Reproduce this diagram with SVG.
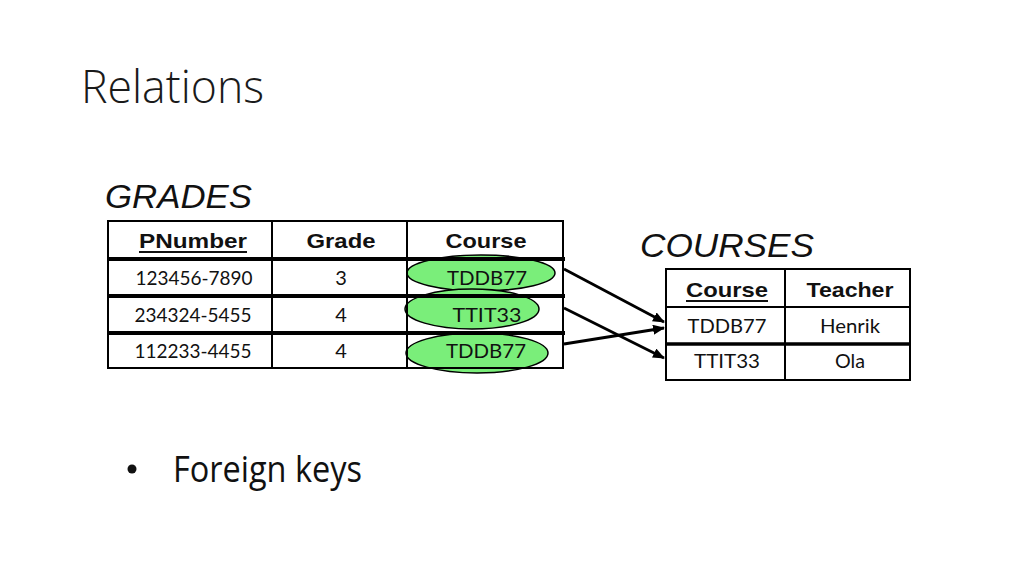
<svg xmlns="http://www.w3.org/2000/svg" width="1024" height="576" viewBox="0 0 1024 576">
<style>
.title{font-family:"Open Sans","Liberation Sans",sans-serif;font-weight:300;fill:#1a1a1a}
.body{font-family:"Open Sans","Liberation Sans",sans-serif;font-weight:400;fill:#111}
.tname{font-family:"Liberation Sans",Arial,sans-serif;font-style:italic;font-size:34px;fill:#111}
.hdr{font-family:"Liberation Sans",Arial,sans-serif;font-weight:bold;font-size:21px;fill:#111;text-anchor:middle}
.cell{font-family:Lato,"Open Sans",sans-serif;font-size:20px;fill:#111;text-anchor:middle}
.thin{stroke:#000;stroke-width:2;fill:none}
.thick{stroke:#000;stroke-width:4;fill:none}
.key{fill:#7aee7a;stroke:#000;stroke-width:1.5}
.conn{stroke:#000;stroke-width:2.8;fill:none;marker-end:url(#ah)}
</style>
<defs>
<marker id="ah" viewBox="0 0 12 10" refX="11" refY="5" markerWidth="12" markerHeight="10" markerUnits="userSpaceOnUse" orient="auto">
<path d="M0,0 L12,5 L0,10 Z" fill="#000"/>
</marker>
</defs>
<rect width="1024" height="576" fill="#fff"/>
<text class="title" x="81" y="103" font-size="46" textLength="183" lengthAdjust="spacingAndGlyphs">Relations</text>

<g id="grades">
<text class="tname" x="105" y="208" textLength="147" lengthAdjust="spacingAndGlyphs">GRADES</text>
<ellipse class="key" cx="481" cy="273" rx="74" ry="18"/>
<ellipse class="key" cx="472" cy="309" rx="67" ry="20"/>
<ellipse class="key" cx="477" cy="353" rx="71" ry="20"/>
<rect class="thin" x="108" y="221" width="455" height="147"/>
<line class="thin" x1="272" y1="221" x2="272" y2="368"/>
<line class="thin" x1="407" y1="221" x2="407" y2="368"/>
<line class="thick" x1="108" y1="259" x2="565" y2="259"/>
<line class="thick" x1="108" y1="296" x2="565" y2="296"/>
<line class="thick" x1="108" y1="333" x2="565" y2="333"/>
<text class="hdr" x="193" y="248" textLength="108" lengthAdjust="spacingAndGlyphs">PNumber</text>
<line x1="139" y1="252" x2="247" y2="252" stroke="#111" stroke-width="2"/>
<text class="hdr" x="341" y="248" textLength="69" lengthAdjust="spacingAndGlyphs">Grade</text>
<text class="hdr" x="486" y="248" textLength="81" lengthAdjust="spacingAndGlyphs">Course</text>
<text class="cell" x="194" y="285" textLength="117" lengthAdjust="spacingAndGlyphs">123456-7890</text>
<text class="cell" x="341" y="285">3</text>
<text class="cell" x="487" y="285" textLength="80" lengthAdjust="spacingAndGlyphs">TDDB77</text>
<text class="cell" x="193" y="322" textLength="117" lengthAdjust="spacingAndGlyphs">234324-5455</text>
<text class="cell" x="341" y="322">4</text>
<text class="cell" x="487" y="322" textLength="69" lengthAdjust="spacingAndGlyphs">TTIT33</text>
<text class="cell" x="193" y="358" textLength="117" lengthAdjust="spacingAndGlyphs">112233-4455</text>
<text class="cell" x="341" y="358">4</text>
<text class="cell" x="486" y="358" textLength="80" lengthAdjust="spacingAndGlyphs">TDDB77</text>
</g>

<g id="courses">
<text class="tname" x="640" y="257" textLength="174" lengthAdjust="spacingAndGlyphs">COURSES</text>
<rect class="thin" x="666" y="269" width="244" height="111"/>
<line class="thin" x1="785" y1="269" x2="785" y2="380"/>
<line class="thin" x1="666" y1="307" x2="910" y2="307"/>
<line x1="666" y1="344" x2="910" y2="344" stroke="#000" stroke-width="3.5"/>
<text class="hdr" x="727" y="297" textLength="82" lengthAdjust="spacingAndGlyphs">Course</text>
<line x1="686" y1="301" x2="768" y2="301" stroke="#111" stroke-width="2"/>
<text class="hdr" x="850" y="297" textLength="87" lengthAdjust="spacingAndGlyphs">Teacher</text>
<text class="cell" x="727" y="333" textLength="79" lengthAdjust="spacingAndGlyphs">TDDB77</text>
<text class="cell" x="850" y="333" textLength="60" lengthAdjust="spacingAndGlyphs">Henrik</text>
<text class="cell" x="727" y="368" textLength="66" lengthAdjust="spacingAndGlyphs">TTIT33</text>
<text class="cell" x="850" y="368" textLength="30" lengthAdjust="spacingAndGlyphs">Ola</text>
</g>

<g id="connectors">
<line class="conn" x1="564" y1="269" x2="664" y2="322"/>
<line class="conn" x1="564" y1="308" x2="664" y2="358"/>
<line class="conn" x1="564" y1="344" x2="664" y2="328"/>
</g>

<g id="bullets">
<circle cx="132" cy="469" r="4.5" fill="#111"/>
<text class="body" x="173" y="482" font-size="37" textLength="189" lengthAdjust="spacingAndGlyphs">Foreign keys</text>
</g>
</svg>
